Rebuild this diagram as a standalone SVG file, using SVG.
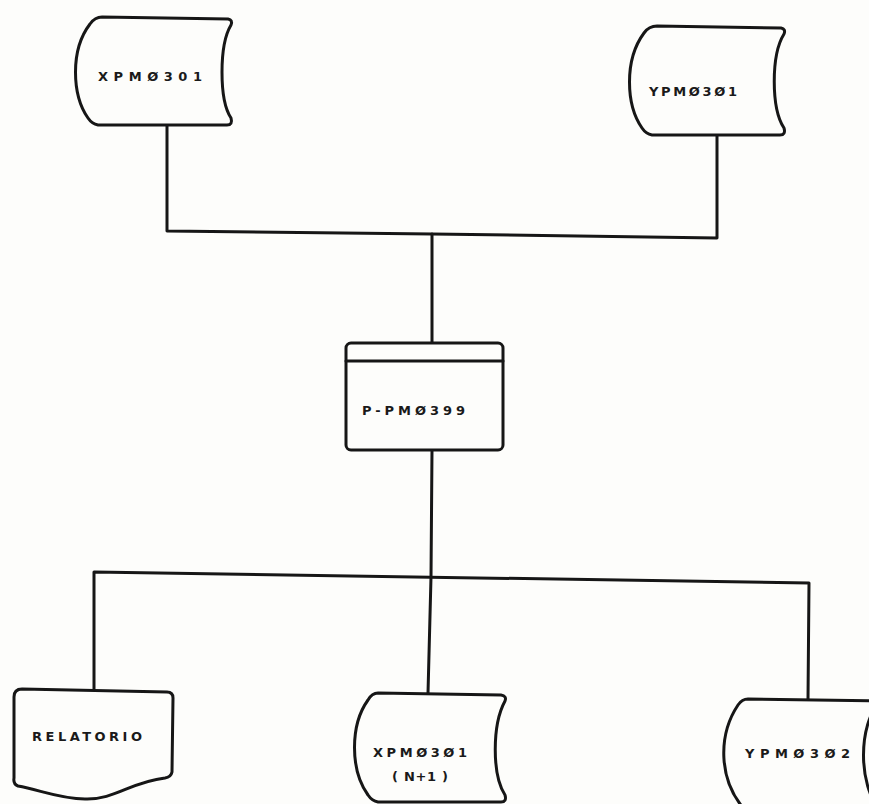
<svg xmlns="http://www.w3.org/2000/svg" width="869" height="804" viewBox="0 0 869 804">
<style>
.s{fill:#fdfdfb;stroke:#161616;stroke-width:3;stroke-linejoin:round;stroke-linecap:round}
.c{fill:none;stroke:#161616;stroke-width:3;stroke-linejoin:round;stroke-linecap:round}
.t{font-family:"DejaVu Sans","Liberation Sans",sans-serif;font-weight:bold;font-size:13px;fill:#1a1a1a}
</style>
<rect width="869" height="804" fill="#fdfdfb"/>
<g id="connectors">
<polyline class="c" points="167,125 167,231 432,234 717,238 717,135"/>
<line class="c" x1="432" y1="234" x2="432" y2="343"/>
<polyline class="c" points="432,450 431,577 428,693"/>
<polyline class="c" points="94,689 94,572 809,583 808,699"/>
</g>
<g id="XPM0301">
<path class="s" d="M 102 17 L 228 19 Q 233 20 231 25 C 219 45 219 100 231 118 Q 233 125 227 125 L 98 125 Q 92 124 88 118 C 72 95 70 50 90 24 Q 95 17 102 17 Z"/>
<text class="t" x="98" y="81" textLength="104" lengthAdjust="spacing">XPMØ301</text>
</g>
<g id="YPM0301">
<path class="s" d="M 657 26 L 781 28 Q 786 29 784 34 C 771 55 771 108 784 128 Q 786 135 780 135 L 652 135 Q 646 134 642 128 C 626 105 624 60 644 33 Q 649 26 657 26 Z"/>
<text class="t" x="649" y="96" textLength="88" lengthAdjust="spacing">YPMØ3Ø1</text>
</g>
<g id="P-PM0399">
<rect class="s" x="346" y="343" width="157" height="107" rx="5"/>
<line class="c" x1="346" y1="361" x2="503" y2="361"/>
<text class="t" x="362" y="415" textLength="103" lengthAdjust="spacing">P-PMØ399</text>
</g>
<g id="RELATORIO">
<path class="s" d="M 22 689 L 167 692 Q 173 692 173 698 L 172 772 Q 171 777 165 778 C 130 782 115 800 85 799 C 60 799 40 790 18 786 Q 13 784 14 778 L 14 697 Q 14 689 22 689 Z"/>
<text class="t" x="32" y="741" textLength="110" lengthAdjust="spacing">RELATORIO</text>
</g>
<g id="XPM0301-N1">
<path class="s" d="M 378 693 L 501 695 Q 507 696 505 701 C 492 725 492 775 505 795 Q 507 802 501 802 L 378 802 Q 372 801 368 795 C 350 770 350 725 368 700 Q 372 693 378 693 Z"/>
<text class="t" x="373" y="757" textLength="94" lengthAdjust="spacing">XPMØ3Ø1</text>
<text class="t" x="392" y="781" textLength="56" lengthAdjust="spacing">( N+1 )</text>
</g>
<g id="YPM0302">
<path class="s" d="M 748 699 L 880 701 C 858 725 858 785 880 810 L 745 810 C 718 780 718 735 738 705 Q 742 699 748 699 Z"/>
<text class="t" x="745" y="758" textLength="105" lengthAdjust="spacing">YPMØ3Ø2</text>
</g>
</svg>
